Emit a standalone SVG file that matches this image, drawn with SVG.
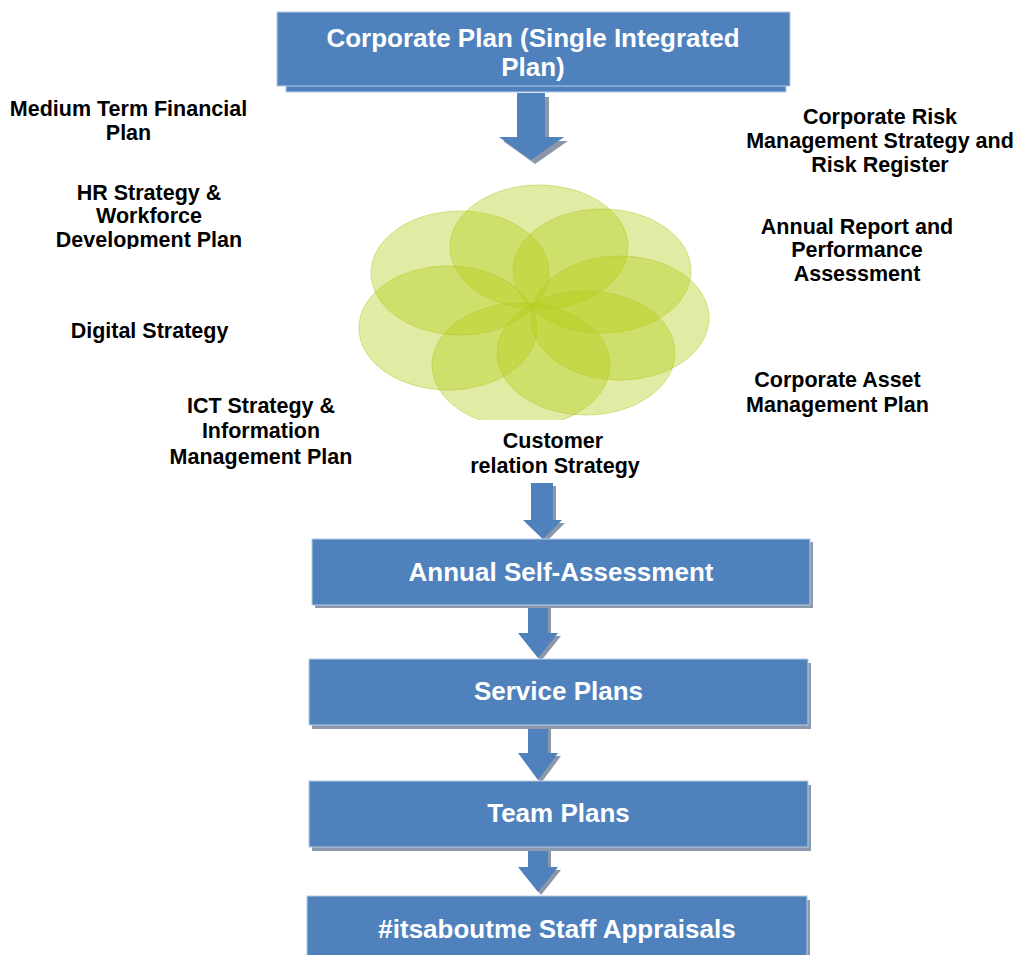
<svg xmlns="http://www.w3.org/2000/svg" width="1015" height="955" viewBox="0 0 1015 955">
<style>
.box{fill:#4f81bd;stroke:#b8cce4;stroke-width:1}
.shadow{fill:#8c99ad}
.arrow{fill:#4f81bd}
.ashadow{fill:#8c97a8}
.bt{font-family:"Liberation Sans",Arial,sans-serif;font-weight:bold;font-size:26px;fill:#ffffff;text-anchor:middle}
.lb{font-family:"Liberation Sans",Arial,sans-serif;font-weight:bold;font-size:21.5px;fill:#000000;text-anchor:middle}
.petal{fill:#b5cc18;fill-opacity:0.4;stroke:#b5c82a;stroke-opacity:0.5;stroke-width:1}
</style>
<defs>
<clipPath id="flowerClip"><rect x="340" y="170" width="390" height="250"/></clipPath>
<clipPath id="hrClip"><rect x="0" y="170" width="300" height="79"/></clipPath>
</defs>
<rect width="1015" height="955" fill="#ffffff"/>

<g id="connectors">
  <g id="arrow1">
    <polygon class="ashadow" points="521,97 549,97 549,141 568,141 535,164 503,141 521,141"/>
    <polygon class="arrow" points="517,93 545,93 545,137 564,137 531,160 499,137 517,137"/>
  </g>
  <g id="arrow2">
    <polygon class="ashadow" points="534,486 556,486 556,523 565,523 546,542 526,523 534,523"/>
    <polygon class="arrow" points="531,483 553,483 553,520 562,520 543,539 523,520 531,520"/>
  </g>
  <g id="arrow3">
    <polygon class="ashadow" points="531,604 551,604 551,636 561,636 541,661 521,636 531,636"/>
    <polygon class="arrow" points="528,601 548,601 548,633 558,633 538,658 518,633 528,633"/>
  </g>
  <g id="arrow4">
    <polygon class="ashadow" points="531,724 551,724 551,756 561,756 541,783 521,756 531,756"/>
    <polygon class="arrow" points="528,721 548,721 548,753 558,753 538,780 518,753 528,753"/>
  </g>
  <g id="arrow5">
    <polygon class="ashadow" points="531,846 551,846 551,870 561,870 541,895 521,870 531,870"/>
    <polygon class="arrow" points="528,843 548,843 548,867 558,867 538,892 518,867 528,867"/>
  </g>
</g>

<g id="corporate-plan">
  <rect class="box" x="286" y="20" width="500" height="72"/>
  <rect class="box" x="277" y="12" width="513" height="74"/>
  <text class="bt" x="533" y="47">Corporate Plan (Single Integrated</text>
  <text class="bt" x="533" y="76">Plan)</text>
</g>

<g id="flower" clip-path="url(#flowerClip)">
  <ellipse class="petal" cx="539" cy="247" rx="89" ry="62"/>
  <ellipse class="petal" cx="602" cy="271" rx="89" ry="62"/>
  <ellipse class="petal" cx="620" cy="318" rx="89" ry="62"/>
  <ellipse class="petal" cx="586" cy="353" rx="89" ry="62"/>
  <ellipse class="petal" cx="521" cy="365" rx="89" ry="62"/>
  <ellipse class="petal" cx="448" cy="328" rx="89" ry="62"/>
  <ellipse class="petal" cx="460" cy="273" rx="89" ry="62"/>
</g>

<g id="label-mtfp">
  <text class="lb" x="128.5" y="116">Medium Term Financial</text>
  <text class="lb" x="128.5" y="140">Plan</text>
</g>
<g id="label-hr" clip-path="url(#hrClip)">
  <text class="lb" x="149" y="200">HR Strategy &amp;</text>
  <text class="lb" x="149" y="223">Workforce</text>
  <text class="lb" x="149" y="247">Development Plan</text>
</g>
<g id="label-digital">
  <text class="lb" x="149.5" y="338">Digital Strategy</text>
</g>
<g id="label-ict">
  <text class="lb" x="261" y="413">ICT Strategy &amp;</text>
  <text class="lb" x="261" y="438">Information</text>
  <text class="lb" x="261" y="464">Management Plan</text>
</g>
<g id="label-customer">
  <text class="lb" x="553" y="448">Customer</text>
  <text class="lb" x="555" y="473">relation Strategy</text>
</g>
<g id="label-risk">
  <text class="lb" x="880" y="124">Corporate Risk</text>
  <text class="lb" x="880" y="148">Management Strategy and</text>
  <text class="lb" x="880" y="172">Risk Register</text>
</g>
<g id="label-annual-report">
  <text class="lb" x="857" y="234">Annual Report and</text>
  <text class="lb" x="857" y="257">Performance</text>
  <text class="lb" x="857" y="281">Assessment</text>
</g>
<g id="label-asset">
  <text class="lb" x="837.5" y="387">Corporate Asset</text>
  <text class="lb" x="837.5" y="412">Management Plan</text>
</g>

<g id="annual-self-assessment">
  <rect class="shadow" x="315" y="542" width="498" height="66"/>
  <rect class="box" x="312" y="539" width="498" height="66"/>
  <text class="bt" x="561" y="581">Annual Self-Assessment</text>
</g>
<g id="service-plans">
  <rect class="shadow" x="312" y="663" width="499" height="66"/>
  <rect class="box" x="309" y="659" width="499" height="66"/>
  <text class="bt" x="558.5" y="700">Service Plans</text>
</g>
<g id="team-plans">
  <rect class="shadow" x="312" y="785" width="499" height="66"/>
  <rect class="box" x="309" y="781" width="499" height="66"/>
  <text class="bt" x="558.5" y="822">Team Plans</text>
</g>
<g id="staff-appraisals">
  <rect class="shadow" x="310" y="900" width="500" height="70"/>
  <rect class="box" x="307" y="896" width="500" height="70"/>
  <text class="bt" x="557" y="938">#itsaboutme Staff Appraisals</text>
</g>
</svg>
